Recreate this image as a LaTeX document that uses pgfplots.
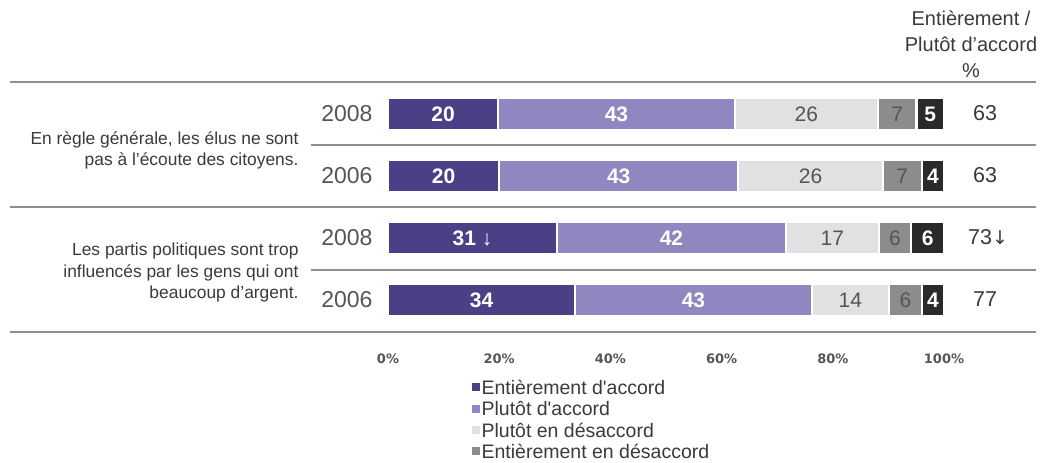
\documentclass[border=0pt]{standalone}
\usepackage{pgfplots}
\pgfplotsset{compat=1.18}
\usepackage{fontspec}
\setmainfont{Liberation Sans}
\newfontfamily\arrowfont{DejaVu Sans}
\newfontfamily\tickfont{DejaVu Sans}
\definecolor{c1}{HTML}{4B3F86}
\definecolor{c2}{HTML}{8F87BF}
\definecolor{c3}{HTML}{E1E1E1}
\definecolor{c4}{HTML}{8C8C8C}
\definecolor{c5}{HTML}{2A2A2A}
\definecolor{txt}{HTML}{3A3A3A}
\definecolor{yeartxt}{HTML}{555555}
\definecolor{seg}{HTML}{555555}
\definecolor{sep}{HTML}{8F8F8F}
\pgfplotsset{mysq/.style={legend image code/.code={\fill[##1,draw=none] (0pt,-3pt) rectangle (8pt,5pt);}}}
\begin{document}
\begin{tikzpicture}[x=1pt,y=1pt]
\path (0,0) rectangle (1046,462);
% separators
\draw[sep, line width=1.4pt] (10,380) -- (1036,380);
\draw[sep, line width=1.4pt] (311,317) -- (1036,317);
\draw[sep, line width=1.4pt] (10,255) -- (1036,255);
\draw[sep, line width=1.4pt] (311,192) -- (1036,192);
\draw[sep, line width=1.4pt] (10,130) -- (1036,130);
% header
\node[align=center, text=txt, font=\fontsize{20}{26}\selectfont] at (971,418) {Entièrement /\\Plutôt d’accord\\\%};
% left labels
\node[align=right, anchor=east, text=txt, font=\fontsize{17.4}{21}\selectfont] at (302,312) {En règle générale, les élus ne sont\\pas à l’écoute des citoyens.};
\node[align=right, anchor=east, text=txt, font=\fontsize{17.4}{21.5}\selectfont] at (302,189) {Les partis politiques sont trop\\influencés par les gens qui ont\\beaucoup d’argent.};
% right values
\node[text=txt, font=\fontsize{21.5}{21.5}\selectfont] at (985,348.5) {63};
\node[text=txt, font=\fontsize{21.5}{21.5}\selectfont] at (985,286.5) {63};
\node[text=txt, font=\fontsize{21.5}{21.5}\selectfont] at (988,224.5) {73{\arrowfont\fontsize{19}{19}\selectfont ↓}};
\node[text=txt, font=\fontsize{21.5}{21.5}\selectfont] at (985,162.5) {77};
\begin{axis}[
  at={(388pt,131pt)}, anchor=south west,
  x=5.56pt, y=62pt,
  xmin=0, xmax=100, ymin=0.5, ymax=4.5,
  xbar stacked, bar width=33pt,
  axis line style={draw=none}, tick style={draw=none},
  xtick={0,20,40,60,80,100},
  xticklabels={0\%,20\%,40\%,60\%,80\%,100\%},
  xticklabel style={font=\tickfont\bfseries\fontsize{13}{13}\selectfont, text=yeartxt, yshift=-19pt},
  ytick={1,2,3,4}, yticklabels={2006,2008,2006,2008},
  yticklabel style={font=\fontsize{23}{23}\selectfont, text=yeartxt, xshift=-12pt},
  clip=false,
  nodes near coords,
  point meta=explicit symbolic,
  every node near coord/.append style={anchor=center, font=\fontsize{21}{21}\selectfont},
  legend style={at={(0.150,-0.19)}, anchor=north west, draw=none, fill=none,
    font=\fontsize{19.5}{19.5}\selectfont, text=txt, row sep=1.6pt, inner sep=0pt},
  legend cell align=left,
]
\addplot[mysq, fill=c1, draw=white, line width=2.2pt, every node near coord/.append style={text=white, font=\bfseries\fontsize{21}{21}\selectfont}]
  coordinates {(19.80,4)[20] (20,3)[20] (30.39,2)[31 ↓] (33.66,1)[34]};
\addplot[mysq, fill=c2, draw=white, line width=2.2pt, every node near coord/.append style={text=white, font=\bfseries\fontsize{21}{21}\selectfont}]
  coordinates {(42.57,4)[43] (43,3)[43] (41.18,2)[42] (42.57,1)[43]};
\addplot[mysq, fill=c3, draw=white, line width=2.2pt, every node near coord/.append style={text=seg}]
  coordinates {(25.74,4)[26] (26,3)[26] (16.67,2)[17] (13.86,1)[14]};
\addplot[mysq, fill=c4, draw=white, line width=2.2pt, every node near coord/.append style={text=seg}]
  coordinates {(6.93,4)[7] (7,3)[7] (5.88,2)[6] (5.94,1)[6]};
\addplot[fill=c5, draw=white, line width=2.2pt, every node near coord/.append style={text=white, font=\bfseries\fontsize{21}{21}\selectfont}]
  coordinates {(4.95,4)[5] (4,3)[4] (5.88,2)[6] (3.96,1)[4]};
\legend{Entièrement d\textquotesingle accord, Plutôt d\textquotesingle accord, Plutôt en désaccord, Entièrement en désaccord}
\end{axis}
\end{tikzpicture}
\end{document}
